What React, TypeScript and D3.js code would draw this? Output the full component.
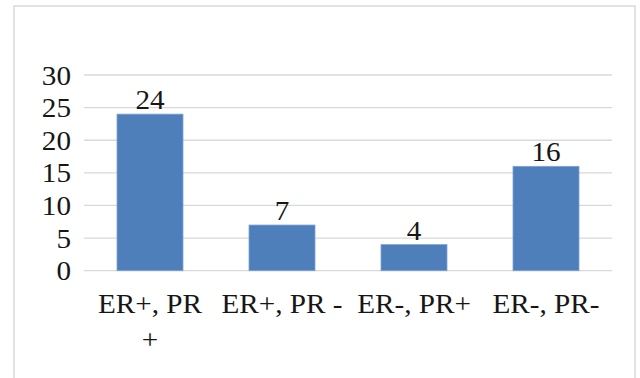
import React, { useEffect, useRef } from "react";
import * as d3 from "d3";

// Receptor status groups and their case counts
const categories: string[] = ["ER+, PR +", "ER+, PR -", "ER-, PR+", "ER-, PR-"];
const counts: number[] = [24, 7, 4, 16];
const yTicks: number[] = [0, 5, 10, 15, 20, 25, 30];

const W = 640;
const H = 378;
const FONT = '"Liberation Serif", "Times New Roman", Times, serif';

// Break a label into lines that fit inside a given width
function wrapLabel(text: string, maxWidth: number, font: string, stretch: number): string[] {
  const canvas = document.createElement("canvas");
  const ctx = canvas.getContext("2d")!;
  ctx.font = font;
  const words = text.split(" ");
  const lines: string[] = [];
  let cur = "";
  for (const w of words) {
    const trial = cur ? cur + " " + w : w;
    if (ctx.measureText(trial).width * stretch > maxWidth && cur) {
      lines.push(cur);
      cur = w;
    } else {
      cur = trial;
    }
  }
  if (cur) lines.push(cur);
  return lines;
}

export default function App() {
  const ref = useRef<SVGSVGElement | null>(null);

  useEffect(() => {
    const svg = d3.select(ref.current);
    svg.selectAll("*").remove();

    const plot = { left: 84, right: 612, top: 75, bottom: 270.7 };
    const fontSize = 27;
    const stretch = 1.08;
    const ink = "#161616";

    const x = d3
      .scaleBand<string>()
      .domain(categories)
      .range([plot.left, plot.right])
      .paddingInner(0.5)
      .paddingOuter(0.25);
    const y = d3.scaleLinear().domain([0, 30]).range([plot.bottom, plot.top]);

    // chart frame
    svg
      .append("rect")
      .attr("x", 14)
      .attr("y", 6)
      .attr("width", 621)
      .attr("height", 400)
      .attr("fill", "#fff")
      .attr("stroke", "#d9d9d9")
      .attr("stroke-width", 1.5);

    // horizontal gridlines
    svg
      .append("g")
      .selectAll("line")
      .data(yTicks)
      .join("line")
      .attr("x1", plot.left)
      .attr("x2", plot.right)
      .attr("y1", (d) => y(d))
      .attr("y2", (d) => y(d))
      .attr("stroke", "#d9d9d9")
      .attr("stroke-width", 1.3);

    // y tick labels
    svg
      .append("g")
      .selectAll("text")
      .data(yTicks)
      .join("text")
      .attr("transform", (d) => `translate(71,${y(d) + 9.5}) scale(${stretch},1)`)
      .attr("text-anchor", "end")
      .style("font-family", FONT)
      .attr("font-size", fontSize)
      .attr("fill", ink)
      .text((d) => String(d));

    // bars
    svg
      .append("g")
      .selectAll("rect")
      .data(counts)
      .join("rect")
      .attr("x", (_, i) => x(categories[i])!)
      .attr("width", x.bandwidth())
      .attr("y", (d) => y(d))
      .attr("height", (d) => y(0) - y(d))
      .attr("fill", "#4f7fbb")
      .attr("stroke", "#7fa3d1")
      .attr("stroke-width", 0.8);

    // value labels above bars
    svg
      .append("g")
      .selectAll("text")
      .data(counts)
      .join("text")
      .attr(
        "transform",
        (d, i) => `translate(${x(categories[i])! + x.bandwidth() / 2},${y(d) - 5}) scale(${stretch},1)`
      )
      .attr("text-anchor", "middle")
      .style("font-family", FONT)
      .attr("font-size", fontSize)
      .attr("fill", ink)
      .text((d) => String(d));

    // category labels, wrapped to the band width
    const step = x.step();
    const catG = svg.append("g");
    categories.forEach((c) => {
      const lines = wrapLabel(c, step - 8, `${fontSize}px ${FONT}`, stretch);
      const cx = x(c)! + x.bandwidth() / 2;
      lines.forEach((ln, j) => {
        catG
          .append("text")
          .attr("transform", `translate(${cx},${313 + j * 36}) scale(${stretch},1)`)
          .attr("text-anchor", "middle")
          .style("font-family", FONT)
          .attr("font-size", fontSize)
          .attr("fill", ink)
          .text(ln);
      });
    });
  }, []);

  return (
    <svg
      ref={ref}
      width={W}
      height={H}
      style={{ position: "absolute", left: 0, top: 0, background: "#fff" }}
    />
  );
}
